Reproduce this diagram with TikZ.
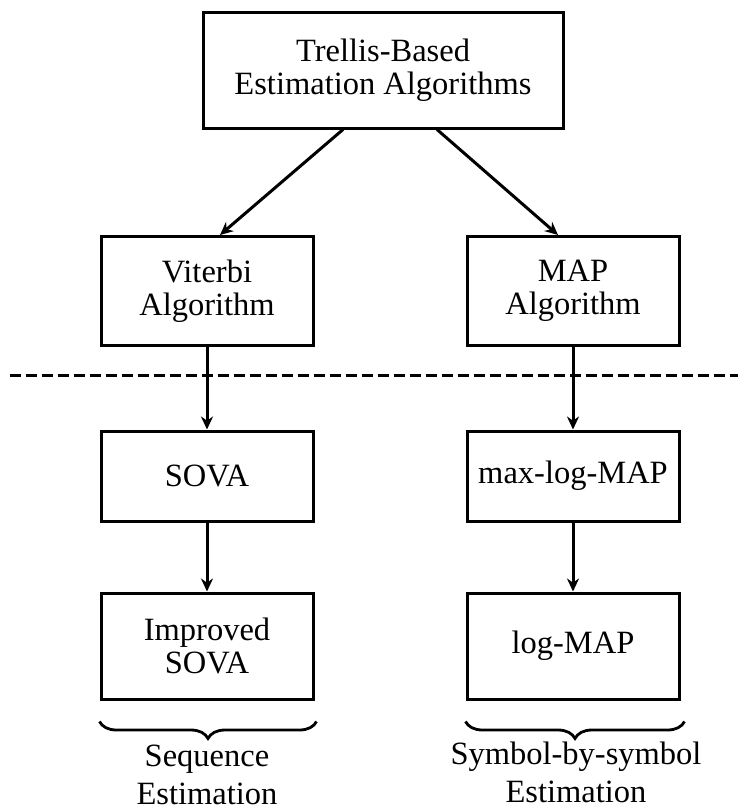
\documentclass[tikz,border=0pt]{standalone}
\usepackage{fontspec}
\setmainfont{Liberation Serif}
\usetikzlibrary{arrows.meta,calc,decorations.pathreplacing}
\begin{document}
\begin{tikzpicture}
  [x=1pt,y=-1pt,line width=3pt,
   every node/.style={font=\fontsize{32.5}{33}\selectfont,align=center},
   blk/.style={draw,rectangle,inner sep=0pt,minimum width=212pt},
   arr/.style={-{Stealth[length=13pt,width=12pt]}},
   brc/.style={decorate,decoration={brace,mirror,amplitude=17pt},line width=2.8pt},
   lbl/.style={font=\fontsize{32.5}{38}\selectfont,inner sep=0pt,anchor=south}]
  \useasboundingbox (0,0) rectangle (738,812);
  \node[blk,minimum width=360pt,minimum height=116pt] (top) at (383,70) {Trellis-Based\\Estimation Algorithms};
  \node[blk,minimum height=109pt] (vit) at (207,291) {Viterbi\\Algorithm};
  \node[blk,minimum height=109pt] (map) at (573,291) {MAP\\Algorithm};
  \node[blk,minimum height=90pt] (sova) at (207,476) {SOVA};
  \node[blk,minimum height=90pt] (mlm) at (573,476) {max-log-MAP};
  \node[blk,minimum height=106pt] (isova) at (207,646) {Improved\\SOVA};
  \node[blk,minimum height=106pt] (lm) at (573,646) {log-MAP};
  \node[lbl] (seq) at (207,806) {Sequence\\Estimation};
  \node[lbl] (sym) at (576,804) {Symbol-by-symbol\\Estimation};
  \coordinate (dl) at (10,375);
  \coordinate (dr) at (738,375);

  \draw[arr] ($(top.south)+(-40,0)$) -- ($(vit.north)+(13,0)$);
  \draw[arr] ($(top.south)+(54,0)$) -- ($(map.north)+(-15,0)$);
  \draw[arr] (vit) -- (sova);
  \draw[arr] (map) -- (mlm);
  \draw[arr] (sova) -- (isova);
  \draw[arr] (mlm) -- (lm);
  \draw[dash pattern=on 11pt off 5pt] (dl) -- (dr);
  \draw[brc] ($(isova.south west)+(0,21)$) -- ($(isova.south east)+(2,21)$);
  \draw[brc] ($(lm.south west)+(0,21)$) -- ($(lm.south east)+(4,21)$);

\end{tikzpicture}
\end{document}
